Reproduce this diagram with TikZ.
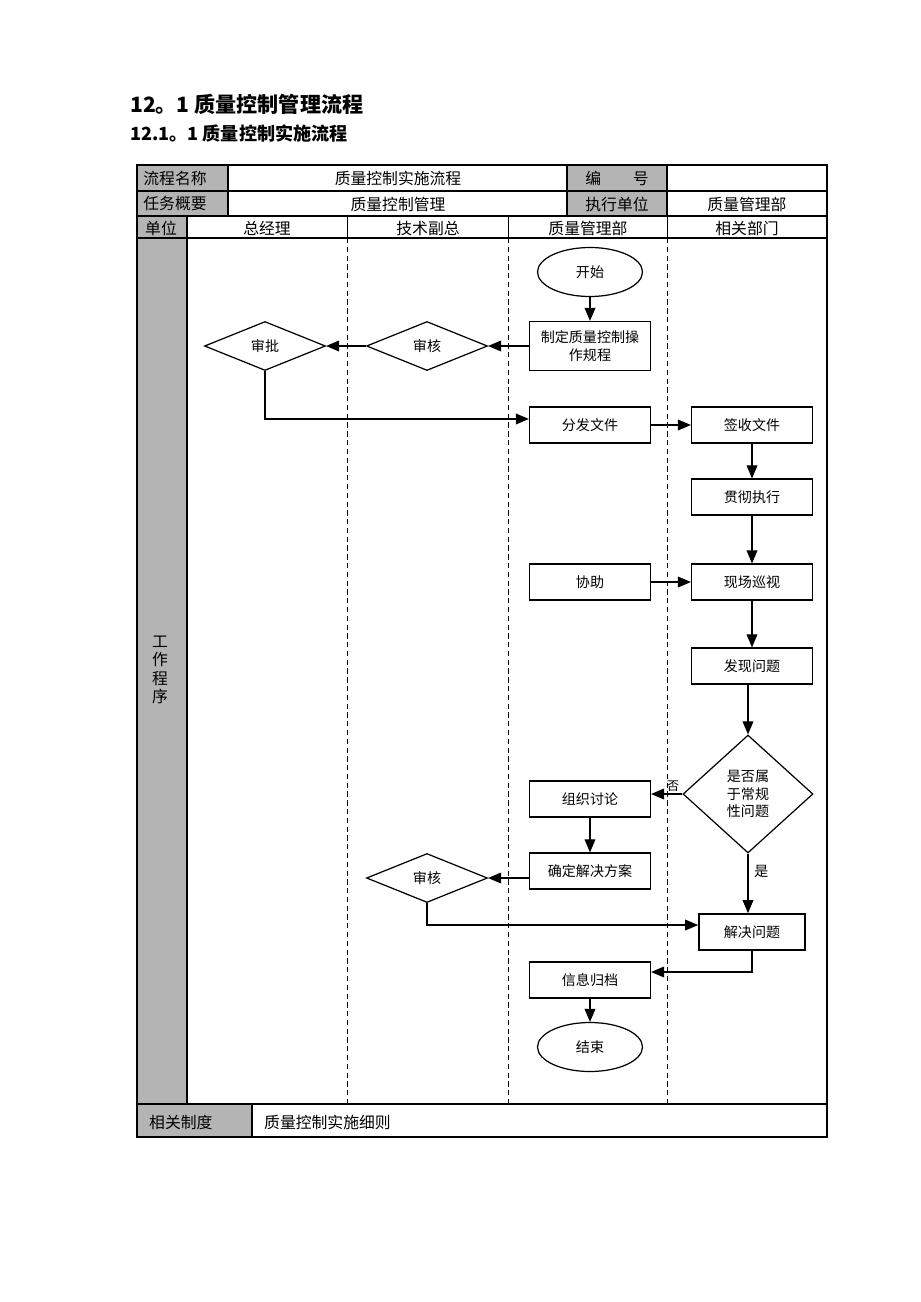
\documentclass[tikz,border=0pt]{standalone}
\usepackage{fontspec}
\setmainfont{Noto Sans CJK SC}
\usetikzlibrary{arrows,shapes.geometric,positioning}
\definecolor{cellgray}{RGB}{180,180,180}

\begin{document}
\begin{tikzpicture}[x=0.02cm,y=-0.02cm,
    >=triangle 45,
    every node/.style={font=\fontsize{8}{10}\selectfont},
    cell/.style={font=\fontsize{9}{11}\selectfont},
    box/.style={draw,line width=0.7pt,minimum width=2.42cm,minimum height=0.72cm,inner sep=1pt,align=center},
    dia/.style={draw,diamond,line width=0.7pt,aspect=2.5,minimum width=2.42cm,minimum height=0.98cm,inner sep=0pt},
    term/.style={draw,ellipse,line width=0.7pt,minimum width=2.1cm,minimum height=0.98cm},
    lane/.style={densely dashed,line width=0.4pt},
    flow/.style={->,line width=0.7pt}]
  \useasboundingbox (0,0) rectangle (920,1302);

  % titles
  \node[anchor=west,font=\fontsize{12}{14}\selectfont\bfseries] (t1) at (124,104) {12。1 质量控制管理流程};
  \node[anchor=west,font=\fontsize{10.3}{12}\selectfont\bfseries] (t2) at (124,134) {12.1。1 质量控制实施流程};

  % table
  \fill[cellgray] (137,165) rectangle (228,216);
  \fill[cellgray] (567,165) rectangle (667,216);
  \fill[cellgray] (137,216) rectangle (187,1104);
  \fill[cellgray] (137,1104) rectangle (252,1137);
  \draw[line width=0.8pt] (137,165) rectangle (827,1137);
  \draw[line width=0.6pt] (137,191) -- (827,191);
  \draw[line width=0.6pt] (137,216) -- (827,216);
  \draw[line width=0.6pt] (137,238) -- (827,238);
  \draw[line width=0.6pt] (137,1104) -- (827,1104);
  \draw[line width=0.6pt] (228,165) -- (228,216);
  \draw[line width=0.6pt] (567,165) -- (567,216);
  \draw[line width=0.6pt] (667,165) -- (667,216);
  \draw[line width=0.6pt] (187,216) -- (187,1104);
  \draw[line width=0.6pt] (252,1104) -- (252,1137);
  \foreach \lx in {347,508,667} {
    \draw[line width=0.4pt] (\lx,216) -- (\lx,238);
    \draw[lane] (\lx,238) -- (\lx,1104);
  }

  \node[cell] (name) at (175,178) {流程名称};
  \node[cell] (namev) at (398,178) {质量控制实施流程};
  \node[cell] (code) at (617,178) {编\hspace{2em}号};
  \node[cell] (task) at (175,204) {任务概要};
  \node[cell] (taskv) at (398,204) {质量控制管理};
  \node[cell] (exec) at (617,204) {执行单位};
  \node[cell] (execv) at (747,204) {质量管理部};
  \node[cell] (unit) at (161,228) {单位};
  \node[cell] (gm) at (267,228) {总经理};
  \node[cell] (vp) at (428,228) {技术副总};
  \node[cell] (qd) at (588,228) {质量管理部};
  \node[cell] (rd) at (747,228) {相关部门};
  \node[cell,align=center,font=\fontsize{9}{10.5}\selectfont] (work) at (160,670) {工\\作\\程\\序};
  \node[cell,anchor=west] (rel) at (143,1122) {相关制度};
  \node[cell,anchor=west] (relv) at (258,1122) {质量控制实施细则};

  % flow nodes
  \node[term] (start) at (590,272) {开始};
  \node[box,minimum height=0.98cm] (rule) at (590,346) {制定质量控制操\\作规程};
  \node[dia] (check1) at (427,346) {审核};
  \node[dia] (approve) at (265,346) {审批};
  \node[box] (issue) at (590,425) {分发文件};
  \node[box] (sign) at (752,425) {签收文件};
  \node[box] (implement) at (752,497) {贯彻执行};
  \node[box] (assist) at (590,582) {协助};
  \node[box] (patrol) at (752,582) {现场巡视};
  \node[box] (findq) at (752,666) {发现问题};
  \node[draw,diamond,line width=0.7pt,aspect=1.1,minimum width=2.6cm,minimum height=2.36cm,inner sep=0pt,align=center] (routine) at (748,794) {是否属\\于常规\\性问题};
  \node[box] (discuss) at (590,799) {组织讨论};
  \node[box] (plan) at (590,871) {确定解决方案};
  \node[dia] (check2) at (427,878) {审核};
  \node[box,minimum width=2.12cm,line width=1pt] (solve) at (752,932) {解决问题};
  \node[box] (archive) at (590,980) {信息归档};
  \node[term] (finish) at (590,1047) {结束};

  % connectors
  \draw[flow] (start) -- (rule);
  \draw[flow] (rule) -- (check1);
  \draw[flow] (check1) -- (approve);
  \draw[flow] (approve.south) |- ([yshift=0.12cm]issue.west);
  \draw[flow] (issue) -- (sign);
  \draw[flow] (sign) -- (implement);
  \draw[flow] (implement) -- (patrol);
  \draw[flow] (assist) -- (patrol);
  \draw[flow] (patrol) -- (findq);
  \draw[flow] (findq.south -| routine.north) -- (routine.north);
  \draw[flow] (routine.west) -- node[above,pos=0.3,inner sep=1pt,font=\fontsize{7}{8}\selectfont] (no) {否} (routine.west -| discuss.east);
  \draw[flow] (discuss) -- (plan);
  \draw[flow] (plan.west |- check2.east) -- (check2.east);
  \draw[flow] (check2.south) |- ([yshift=0.14cm]solve.west);
  \draw[flow] (routine.south) -- node[right,pos=0.3] (yes) {是} (solve.north -| routine.south);
  \draw[flow] (solve.south) |- ([yshift=0.16cm]archive.east);
  \draw[flow] (archive) -- (finish);
\end{tikzpicture}
\end{document}
